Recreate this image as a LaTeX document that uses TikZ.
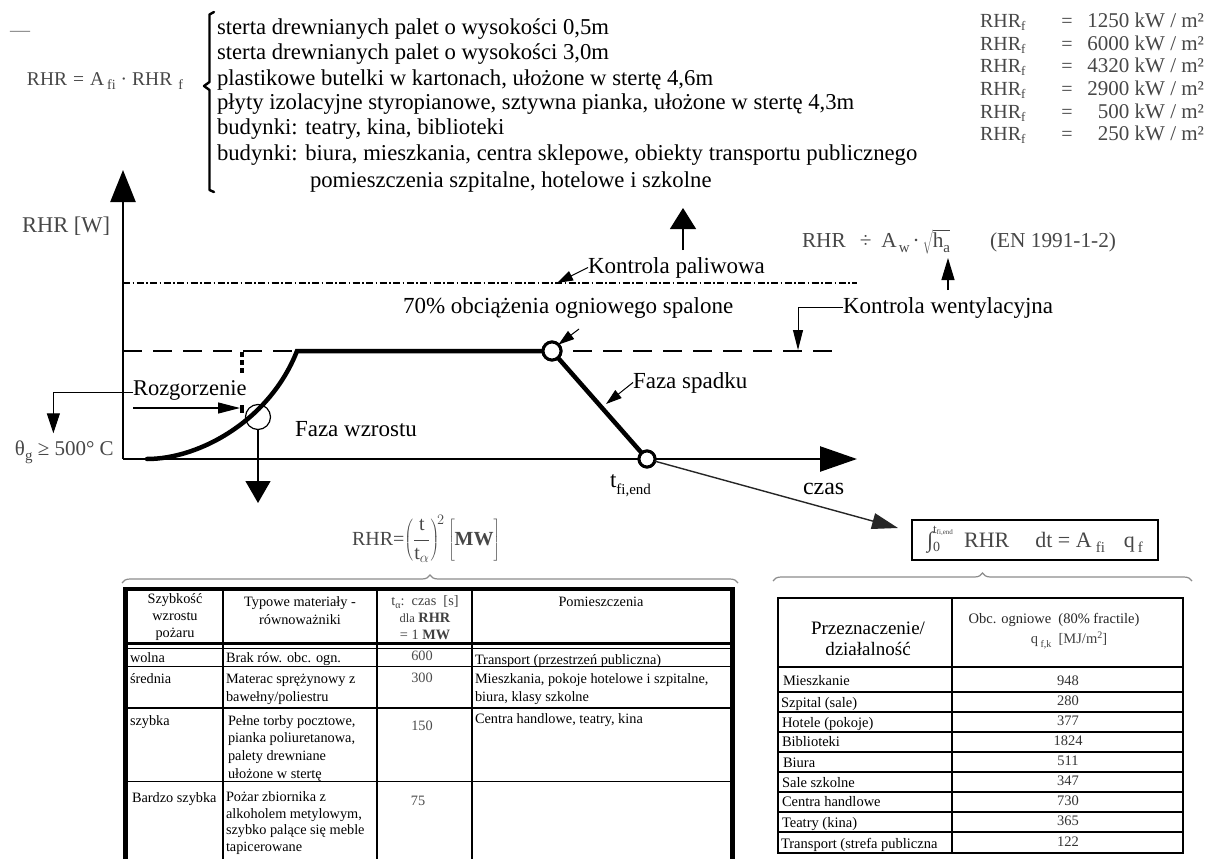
\documentclass[tikz,border=0pt]{standalone}
\usepackage{fontspec}
\setmainfont{Liberation Serif}
\usetikzlibrary{arrows.meta,decorations.pathreplacing,calc}
\definecolor{fgray}{HTML}{474747}
\definecolor{bracegray}{HTML}{8C8C8C}
% small lowered / raised indices set in the text font
\newcommand\lowi[3]{\raisebox{-#1pt}{\fontsize{#2}{#2}\selectfont #3}}
\newcommand\highi[3]{\raisebox{#1pt}{\fontsize{#2}{#2}\selectfont #3}}

\begin{document}
\begin{tikzpicture}[x=1pt,y=-1pt,
  every node/.style={inner sep=0pt, outer sep=0pt},
  list/.style={font=\fontsize{22.7}{25}\selectfont, anchor=base west},
  lbl/.style={font=\fontsize{23}{26}\selectfont, anchor=base west},
  frm/.style={font=\fontsize{20}{22}\selectfont, text=fgray, anchor=base west},
  cell/.style={font=\fontsize{14.3}{17.6}\selectfont, align=left, anchor=base west},
  ccell/.style={font=\fontsize{14.3}{17}\selectfont, align=center, anchor=base},
  rcell/.style={font=\fontsize{14.5}{17}\selectfont, anchor=base west},
  rnum/.style={font=\fontsize{14.5}{17}\selectfont, anchor=base, text=black!80},
  axisln/.style={line width=2.5pt},
  fire/.style={line width=4.5pt},
  lead/.style={line width=1pt, -{Triangle[length=16pt,width=10pt]}},
  bigarrow/.style={line width=1.3pt, -{Triangle[length=21pt,width=26pt]}},
  ring/.style={circle, draw, fill=white, line width=3pt},
  tline/.style={line width=1.5pt},
  brc/.style={decorate, decoration={brace, amplitude=8pt}, draw=bracegray, line width=1.2pt},
]
\fill[white] (0,0) rectangle (1211,859);
\useasboundingbox (0,0) rectangle (1211,859);

% ---------------- heat release list ----------------
\node[frm, text=black!50] (dash) at (10,37) {—};
\node[frm, font=\fontsize{19.5}{22}\selectfont] (rhrA) at (27,85)
  {RHR\hspace{6pt}=\hspace{6pt}A\hspace{3pt}\lowi{5}{14}{fi}\hspace{5pt}·\hspace{5pt}RHR\hspace{6pt}\lowi{5}{14}{f}};
\draw[line width=2.4pt, line cap=round, line join=round]
  (214,12) -- (209.5,14.5) -- (209.5,82) -- (204,86) -- (209.5,90) -- (209.5,190) -- (214,192);
\node[list] (t1) at (217,35) {sterta drewnianych palet o wysokości 0,5m};
\node[list] (t2) at (217,60) {sterta drewnianych palet o wysokości 3,0m};
\node[list] (t3) at (217,85) {plastikowe butelki w kartonach, ułożone w stertę 4,6m};
\node[list] (t4) at (217,110) {płyty izolacyjne styropianowe, sztywna pianka, ułożone w stertę 4,3m};
\node[list] (t5) at (217,135) {budynki: teatry, kina, biblioteki};
\node[list] (t6) at (217,160) {budynki: biura, mieszkania, centra sklepowe, obiekty transportu publicznego};
\node[list] (t7) at (310,187) {pomieszczenia szpitalne, hotelowe i szkolne};

% RHR_f values: name, sign and value in three aligned columns
\foreach \v/\yy [count=\i] in {1250/28, 6000/50.5, 4320/73, 2900/95.5, 500/118, 250/140.5} {
  \node[frm] (fn\i) at (980,\yy) {RHR\lowi{3}{13}{f}};
  \node[frm, anchor=base] (fe\i) at (1067,\yy) {=};
  \node[frm, font=\fontsize{21}{22}\selectfont, anchor=base east] (fv\i) at (1204,\yy) {\v\ kW / m²};
}

% ---------------- RHR(t) diagram ----------------
\coordinate (O) at (123,459);
\coordinate (ytop) at (123,170);
\coordinate (xend) at (857,459);
\node[frm, font=\fontsize{22.5}{25}\selectfont] (yl) at (22,232) {RHR [W]};
\draw[axisln, -{Triangle[length=32pt,width=25pt]}] (O) -- (ytop);
\draw[axisln, -{Triangle[length=37pt,width=25pt]}] (O) -- (xend);

% fuel control and ventilation control levels
\draw[line width=1.3pt, dash pattern=on 7pt off 2.5pt on 1.5pt off 2.5pt] (123,283) -- (857,283);
\draw[line width=1.2pt, dash pattern=on 19pt off 11pt] (123,351) -- (838,351);

% fire curve: growth, steady burning, decay
\coordinate (g0) at (147,459);
\coordinate (g1) at (297,351);
\node[ring, minimum size=18pt] (c1) at (552,351) {};
\node[ring, minimum size=16pt] (c2) at (647,459) {};
\draw[fire, line cap=round] (g0) .. controls (200,459) and (270,420) .. (g1) -- (c1);
\draw[fire] (c1) -- (c2);
\node[ring, minimum size=18pt] at (552,351) {};
\node[ring, minimum size=16pt] at (647,459) {};

% flashover
\node[circle, draw, line width=1.2pt, minimum size=25pt] (c0) at (258,417) {};
\coordinate (dn) at (258,503);
\draw[line width=1.3pt, -{Triangle[length=22pt,width=25pt]}] (c0) -- (dn);
\coordinate (fo) at (242,352);
\draw[line width=3.5pt, dash pattern=on 5pt off 3pt on 5pt off 3pt on 5pt off 32pt on 8pt] (fo) -- ++(0,61);

\node[lbl, font=\fontsize{22.5}{25}\selectfont] (roz) at (133,395) {Rozgorzenie};
\node[frm, font=\fontsize{21}{24}\selectfont] (theta) at (15,455) {θ\lowi{5}{15}{g} ≥ 500° C};
\draw[line width=1pt, -{Triangle[length=20pt,width=13pt]}]
  ([yshift=-3pt]roz.west) -| ([xshift=-11pt,yshift=7pt]theta.north);
\coordinate (rt) at (133,408);
\coordinate (rtip) at (240,408);
\draw[line width=1.2pt, -{Triangle[length=22pt,width=11pt]}] (rt) -- (rtip);

\node[lbl] (fw) at (295,436) {Faza wzrostu};

\node[lbl] (kp) at (588,273) {Kontrola paliwowa};
\coordinate (kpt) at (557,283);
\draw[lead] (kp.west) -- (kpt);

\node[lbl] (pct) at (403,313) {70\% obciążenia ogniowego spalone};
\coordinate (pctT) at (579,329);
\draw[lead] (pctT) -- (c1.north east);

\node[lbl] (fsp) at (633,388) {Faza spadku};
\coordinate (fspT) at (606,404);
\draw[lead] (fsp.west) -- (fspT);

\node[lbl] (kw) at (843,313) {Kontrola wentylacyjna};
\coordinate (kwT) at (798,350);
\draw[line width=1pt, -{Triangle[length=20pt,width=10pt]}] (kw.west) -| (kwT);

\node[frm, font=\fontsize{21.3}{23}\selectfont] (en) at (802,247)
  {RHR\hspace{14pt}÷\hspace{10pt}A\hspace{2pt}\lowi{5}{15}{w}\hspace{3pt}·\hspace{3pt}$\sqrt{\hbox{h\lowi{5}{15}{a}}}$\hspace{40pt}(EN 1991-1-2)};
\coordinate (haB) at (948,290);
\coordinate (haT) at (948,258);
\draw[line width=1.2pt, -{Triangle[length=22pt,width=13pt]}] (haB) -- (haT);

\coordinate (upB) at (683,250);
\coordinate (upT) at (683,208);
\draw[bigarrow] (upB) -- (upT);

\node[lbl] (tfi) at (610,487) {t\lowi{7}{15}{fi,end}};
\node[lbl, font=\fontsize{24}{26}\selectfont] (cz) at (803,494) {czas};

% total energy released
\node[draw, line width=1.3pt, minimum width=246pt, minimum height=40pt,
      font=\fontsize{22}{24}\selectfont, text=fgray] (intg) at (1035,540)
  {∫\rlap{\highi{14}{13}{t\lowi{1}{7}{fi,end}}}\lowi{4}{14}{0}\hspace{24pt}RHR\hspace{26pt}dt = A\hspace{4pt}\lowi{5}{15}{fi}\hspace{19pt}q\hspace{3pt}\lowi{5}{15}{f}};
\coordinate (czT) at ($(intg.west)+(-14,-12)$);
\draw[line width=1.4pt, black!85, -{Triangle[length=26pt,width=16pt]}] (c2) -- (czT);

\node[frm, font=\fontsize{20}{22}\selectfont] (rhrt) at (352,545)
  {RHR=$\displaystyle\left(\frac{\mathrm{t}}{\mathrm{t}_{\alpha}}\right)^{\!2}\left[\vphantom{\frac{\mathrm{t}}{\mathrm{t}_{\alpha}}}\mbox{\textbf{MW}}\right]$};

% braces over the tables
\coordinate (bl1) at (122,583);
\coordinate (bl2) at (738,583);
\draw[brc] (bl1) -- (bl2);
\coordinate (br1) at (773,581);
\coordinate (br2) at (1192,581);
\draw[brc] (br1) -- (br2);

% ---------------- growth rate table ----------------
\draw[line width=5pt] (125.5,587) -- (125.5,859);
\draw[line width=5pt] (732.5,587) -- (732.5,859);
\draw[line width=4pt] (123,589) -- (735,589);
\draw[line width=2pt] (223,589) -- (223,859);
\draw[line width=2pt] (377,589) -- (377,859);
\draw[line width=2pt] (472,589) -- (472,859);
\draw[line width=3pt] (123,643.5) -- (735,643.5);
\draw[line width=1.1pt] (123,648.5) -- (735,648.5);
\draw[tline] (123,666.5) -- (735,666.5);
\draw[tline] (123,708) -- (735,708);
\draw[line width=1.8pt] (123,781.5) -- (735,781.5);

% multi-line cells are placed by the baseline of their last line
\node[ccell] (h1) at (175,637) {Szybkość\\wzrostu\\pożaru};
\node[ccell, font=\fontsize{14.3}{18}\selectfont] (h2) at (300,624) {Typowe materiały -\\równoważniki};
\node[ccell, text=black!75] (h3) at (425,639)
  {t\lowi{3}{10}{α}:\ \ czas\ \ [s]\\{\fontsize{12.5}{12}\selectfont dla} \textbf{RHR}\\= 1 \textbf{MW}};
\node[ccell] (h4) at (601,606) {Pomieszczenia};

\node[cell] (r1a) at (130,662) {wolna};
\node[cell] (r1b) at (226,662) {Brak rów. obc. ogn.};
\node[ccell, text=black!70] (r1c) at (422,660) {600};
\node[cell] (r1d) at (475,664) {Transport (przestrzeń publiczna)};

\node[cell] (r2a) at (130,683) {średnia};
\node[cell] (r2b) at (226,701) {Materac sprężynowy z\\bawełny/poliestru};
\node[ccell, text=black!70] (r2c) at (422,682) {300};
\node[cell] (r2d) at (475,701) {Mieszkania, pokoje hotelowe i szpitalne,\\biura, klasy szkolne};

\node[cell] (r3a) at (130,725) {szybka};
\node[cell] (r3b) at (228,778) {Pełne torby pocztowe,\\pianka poliuretanowa,\\palety drewniane\\ułożone w stertę};
\node[ccell, text=black!70] (r3c) at (422,730) {150};
\node[cell] (r3d) at (475,723) {Centra handlowe, teatry, kina};

\node[cell] (r4a) at (132,802) {Bardzo szybka};
\node[cell, font=\fontsize{14.3}{16.4}\selectfont] (r4b) at (226,851) {Pożar zbiornika z\\alkoholem metylowym,\\szybko palące się meble\\tapicerowane};
\node[ccell, text=black!70] (r4c) at (418,805) {75};

% ---------------- fire load table ----------------
\draw[line width=2.2pt] (778,598) rectangle (1183,853);
\draw[line width=2pt] (952,598) -- (952,853);
\draw[line width=2pt] (778,667) -- (1183,667);
\foreach \yy in {692,712,732,752,772,792,812,832}
  \draw[tline] (778,\yy) -- (1183,\yy);

\node[font=\fontsize{19}{21}\selectfont, align=center, anchor=base] (p1) at (868,655) {Przeznaczenie/\\działalność};
\node[font=\fontsize{14.5}{17}\selectfont, anchor=base, text=black!85] (p2) at (1054,623) {Obc. ogniowe\ \ (80\% fractile)};
\node[font=\fontsize{14.5}{17}\selectfont, anchor=base, text=black!75] (p3) at (1069,643) {q\,\lowi{4}{10}{f,k}\ \ [MJ/m\highi{5}{10}{2}]};

\node[rcell] (q1) at (783,685) {Mieszkanie};
\node[rcell] (q2) at (781,707) {Szpital (sale)};
\node[rcell] (q3) at (782,727) {Hotele (pokoje)};
\node[rcell] (q4) at (782,746) {Biblioteki};
\node[rcell] (q5) at (783,767) {Biura};
\node[rcell] (q6) at (782,787) {Sale szkolne};
\node[rcell] (q7) at (782,806) {Centra handlowe};
\node[rcell] (q8) at (782,827) {Teatry (kina)};
\node[rcell] (q9) at (781,848) {Transport (strefa publiczna};

\node[rnum] (v1) at (1068,685) {948};
\node[rnum] (v2) at (1068,705) {280};
\node[rnum] (v3) at (1068,725) {377};
\node[rnum] (v4) at (1068,745) {1824};
\node[rnum] (v5) at (1068,765) {511};
\node[rnum] (v6) at (1068,785) {347};
\node[rnum] (v7) at (1068,805) {730};
\node[rnum] (v8) at (1068,825) {365};
\node[rnum] (v9) at (1068,846) {122};
\end{tikzpicture}
\end{document}
